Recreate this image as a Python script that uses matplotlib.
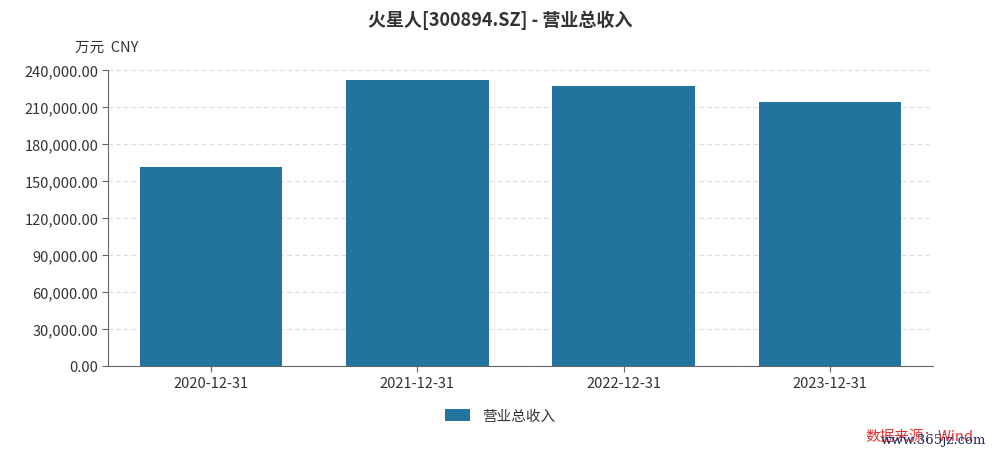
import numpy as np
import matplotlib.pyplot as plt
from matplotlib.patches import Patch

plt.rcParams['font.family'] = ['Noto Sans CJK SC', 'DejaVu Sans']

categories = ['2020-12-31', '2021-12-31', '2022-12-31', '2023-12-31']
revenue = [161300, 231900, 227000, 214000]
yticks = [0, 30000, 60000, 90000, 120000, 150000, 180000, 210000, 240000]
series_name = '营业总收入'
title = '火星人[300894.SZ] - 营业总收入'
unit = '万元  CNY'

bar_color = '#22749f'
text_color = '#333333'

fig = plt.figure(figsize=(10.04, 4.56), dpi=100)
ax = fig.add_axes([0.1076, 0.1952, 0.8217, 0.6491])

x = np.arange(len(categories))
ax.bar(x, revenue, width=0.69, color=bar_color, zorder=3)

ax.set_xlim(-0.5, len(categories) - 0.5)
ax.set_ylim(0, 240000)
ax.set_xticks(x)
ax.set_xticklabels(categories, fontsize=10.5, color=text_color)
ax.set_yticks(yticks)
ax.set_yticklabels([f'{v:,.2f}' for v in yticks], fontsize=10.5, color=text_color)
ax.grid(axis='y', linestyle=(0, (4, 3)), color='#dddddd', linewidth=0.8, zorder=0)

for s in ['top', 'right']:
    ax.spines[s].set_visible(False)
for s in ['left', 'bottom']:
    ax.spines[s].set_color('#666666')
    ax.spines[s].set_linewidth(0.8)
ax.tick_params(axis='both', colors='#666666', length=4, width=0.8, labelcolor=text_color, pad=3)

fig.text(0.498, 0.955, title, ha='center', va='center', fontsize=13,
         fontweight='bold', color=text_color)
fig.text(0.075, 0.895, unit, ha='left', va='center', fontsize=10.5, color=text_color)

leg = fig.legend(handles=[Patch(facecolor=bar_color, label=series_name)],
                 loc='center', bbox_to_anchor=(0.498, 0.085), frameon=False,
                 fontsize=10.5, handlelength=1.7, handleheight=0.9)
for t in leg.get_texts():
    t.set_color(text_color)

fig.text(0.862, 0.042, '数据来源：Wind', ha='left', va='center', fontsize=10.5,
         color='#e03030')
fig.text(0.877, 0.035, 'www.365jz.com', ha='left', va='center', fontsize=9.5,
         color='#1a2a5a', family=['DejaVu Serif'])

fig.savefig('out.png', dpi=100)
